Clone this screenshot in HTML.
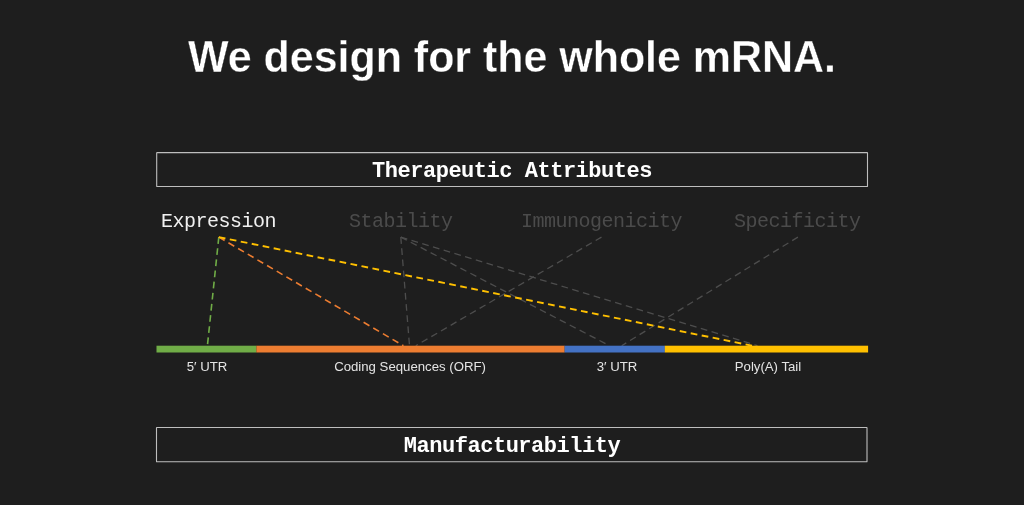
<!DOCTYPE html>
<html>
<head>
<meta charset="utf-8">
<style>
  html, body { margin:0; padding:0; }
  body { width:1024px; height:505px; background:#1e1e1e; overflow:hidden; position:relative;
         font-family:"Liberation Sans", sans-serif; color:#fff; }
  h1 { position:absolute; left:0; top:31px; width:1024px; margin:0; text-align:center;
       font-family:"Liberation Sans", sans-serif; font-weight:bold; font-size:43px; line-height:52px;
       letter-spacing:-0.04px; color:#fff; white-space:nowrap; -webkit-text-stroke:0.35px #1e1e1e;
       transform:translateY(0.15px) scaleY(1.05); transform-origin:0 40.9px; }
  .boxt { position:absolute; left:156px; width:712px; height:34px;
         text-align:center; font-family:"Liberation Mono", monospace; font-weight:bold;
         font-size:22px; line-height:34px; letter-spacing:-0.48px; color:#fff; white-space:nowrap; }
  .attr { position:absolute; top:210px; font-family:"Liberation Mono", monospace; font-size:20px;
          line-height:24px; letter-spacing:-0.5px; color:#4b4b4b; white-space:nowrap; }
  .lbl { position:absolute; top:359px; font-size:13.2px; line-height:16px; color:#e4e4e4;
         white-space:nowrap; transform:translateX(-50%); }
  svg { position:absolute; left:0; top:0; }
  h1, .boxt, .attr, .lbl { will-change:transform; }
</style>
</head>
<body>
<h1>We design for the whole mRNA.</h1>

<div class="boxt" style="top:155px;">Therapeutic Attributes</div>

<div class="attr" style="left:161px; color:#f0f0f0;">Expression</div>
<div class="attr" style="left:349px;">Stability</div>
<div class="attr" style="left:521px;">Immunogenicity</div>
<div class="attr" style="left:734px;">Specificity</div>

<svg width="1024" height="505" viewBox="0 0 1024 505" fill="none">
  <rect x="156.7" y="152.6" width="710.8" height="33.85" rx="0.3" stroke="#bebebe" stroke-width="1.1"/>
  <rect x="156.5" y="427.5" width="710.5" height="34.3" rx="0.3" stroke="#bebebe" stroke-width="1.1"/>
  <g stroke="#4d4d4d" stroke-width="1.3" stroke-dasharray="6.75 4.45">
    <line x1="400.8" y1="237.1" x2="409.5" y2="345.7"/>
    <line x1="400.8" y1="237.1" x2="609.5" y2="345.7"/>
    <line x1="400.8" y1="237.1" x2="757.5" y2="345.7"/>
    <line x1="601.5" y1="237.1" x2="415.8" y2="345.7"/>
    <line x1="797.9" y1="237.1" x2="621.7" y2="345.7"/>
  </g>
  <line x1="218.8" y1="237.1" x2="207.4" y2="345.7" stroke="#70ad47" stroke-width="1.6" stroke-dasharray="6.75 4.45"/>
  <line x1="218.8" y1="237.1" x2="403.4" y2="345.7" stroke="#ed7d31" stroke-width="1.6" stroke-dasharray="6.75 4.45"/>
  <line x1="218.8" y1="237.1" x2="752" y2="345.7" stroke="#ffc000" stroke-width="1.9" stroke-dasharray="6.75 4.45"/>
  <rect x="156.5" y="345.7" width="100" height="6.8" fill="#70ad47"/>
  <rect x="256.4" y="345.7" width="308.3" height="6.8" fill="#ed7d31"/>
  <rect x="564.6" y="345.7" width="100.3" height="6.8" fill="#4472c4"/>
  <rect x="664.8" y="345.7" width="203.3" height="6.8" fill="#ffc000"/>
</svg>

<div class="lbl" style="left:206.9px;">5&#8242; UTR</div>
<div class="lbl" style="left:409.5px;">Coding Sequences (ORF)</div>
<div class="lbl" style="left:616.5px;">3&#8242; UTR</div>
<div class="lbl" style="left:768.2px;">Poly(A) Tail</div>

<div class="boxt" style="top:430px;">Manufacturability</div>
</body>
</html>
